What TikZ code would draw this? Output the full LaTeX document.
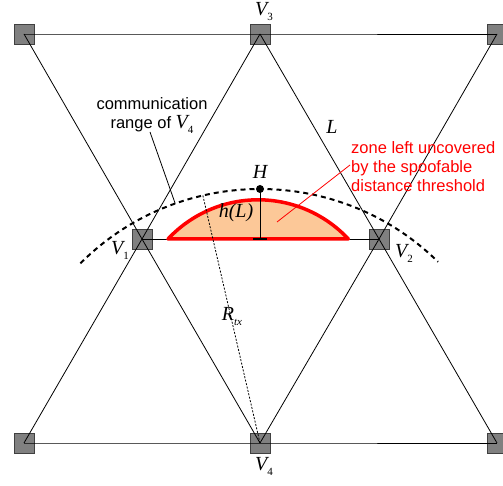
\documentclass[tikz,border=0pt]{standalone}
\usepackage{fontspec}
\setmainfont{Liberation Sans}
\newfontfamily\tms{Liberation Serif}
\usetikzlibrary{calc}
\newcommand{\vlab}[2]{{\tms\fontsize{20}{20}\selectfont\itshape #1}\raisebox{-5pt}{\tms\fontsize{11}{11}\selectfont #2}}
\definecolor{peach}{RGB}{252,200,152}
\definecolor{sqgray}{RGB}{128,128,128}
\tikzset{
  sq/.style={draw=black!75, fill=sqgray, minimum size=20pt, inner sep=0pt, line width=0.8pt},
  edge/.style={line width=0.8pt, black},
  lab/.style={inner sep=0pt, font=\tms\fontsize{20}{20}\selectfont\itshape},
  sans/.style={inner sep=0pt, font=\fontsize{16.5}{19}\selectfont, align=center},
}
\begin{document}
\begin{tikzpicture}[x=1pt,y=1pt]
\useasboundingbox (0,0) rectangle (503,485);
% squares
\node[sq] (A) at (24,451) {};
\node[sq] (V3) at (260,451) {};
\node[sq] (C) at (497,451) {};
\node[sq] (V1) at (142,246) {};
\node[sq] (V2) at (379,246) {};
\node[sq] (D) at (24,42) {};
\node[sq] (V4) at (260,42) {};
\node[sq] (E) at (497,42) {};
% lattice edges
\draw[edge] (A.center) -- (V3.center) -- (C.center);
\draw[edge] (D.center) -- (V4.center) -- (E.center);
\draw[edge] (A.center) -- (V1.center) -- (V4.center);
\draw[edge] (V3.center) -- (V1.center) -- (D.center);
\draw[edge] (V3.center) -- (V2.center) -- (E.center);
\draw[edge] (C.center) -- (V2.center) -- (V4.center);
\draw[edge] (V1.center) -- (V2.center);
% uncovered zone
\draw[red, line width=3.5pt, fill=peach, line join=round] (168,246) arc[start angle=137, end angle=43, radius=123.3] -- cycle;
% communication range arc
\draw[line width=2pt, dash pattern=on 5pt off 4pt] (V4.center) ++(135:254) arc[start angle=135, end angle=45.5, radius=254];
% R_tx radius
\coordinate (P) at ($(V4.center)+(103:254)$);
\draw[line width=0.8pt, dash pattern=on 2pt off 1.5pt] (V4.center) -- (P);
% H and h(L)
\coordinate (Hb) at (260,246);
\node[circle, fill=black, inner sep=0pt, minimum size=8pt] (H) at (260,296) {};
\draw[line width=1pt] (H.center) -- (Hb);
\draw[line width=1.5pt] ($(Hb)+(-7,0)$) coordinate (t1) -- ($(Hb)+(7,0)$) coordinate (t2);
\node[lab] (Hl) at (260,313) {H};
\node[lab] (hL) at (236,272) {h(L)};
\node[lab] (Ll) at (332,358) {L};
\node[inner sep=0pt] (Rl) at (232,168) {\vlab{R}{\itshape tx}};
% vertex labels
\node[inner sep=0pt] (V3l) at (264,473) {\vlab{V}{3}};
\node[inner sep=0pt] (V1l) at (120,235) {\vlab{V}{1}};
\node[inner sep=0pt] (V2l) at (404,232) {\vlab{V}{2}};
\node[inner sep=0pt] (V4l) at (264,19) {\vlab{V}{4}};
% communication range label
\node[sans] (comm) at (152,369) {communication\\range of \vlab{V}{4}};
\coordinate (ca) at ($(V4.center)+(109.5:254)$);
\draw[line width=0.8pt] (150,353) -- (ca);
% red label
\node[sans, align=left, anchor=west, text=red] (zone) at (351,318) {zone left uncovered\\by the spoofable\\distance threshold};
\coordinate (za) at (277,263);
\draw[red, line width=0.8pt] (350,320) -- (za);
\end{tikzpicture}
\end{document}
